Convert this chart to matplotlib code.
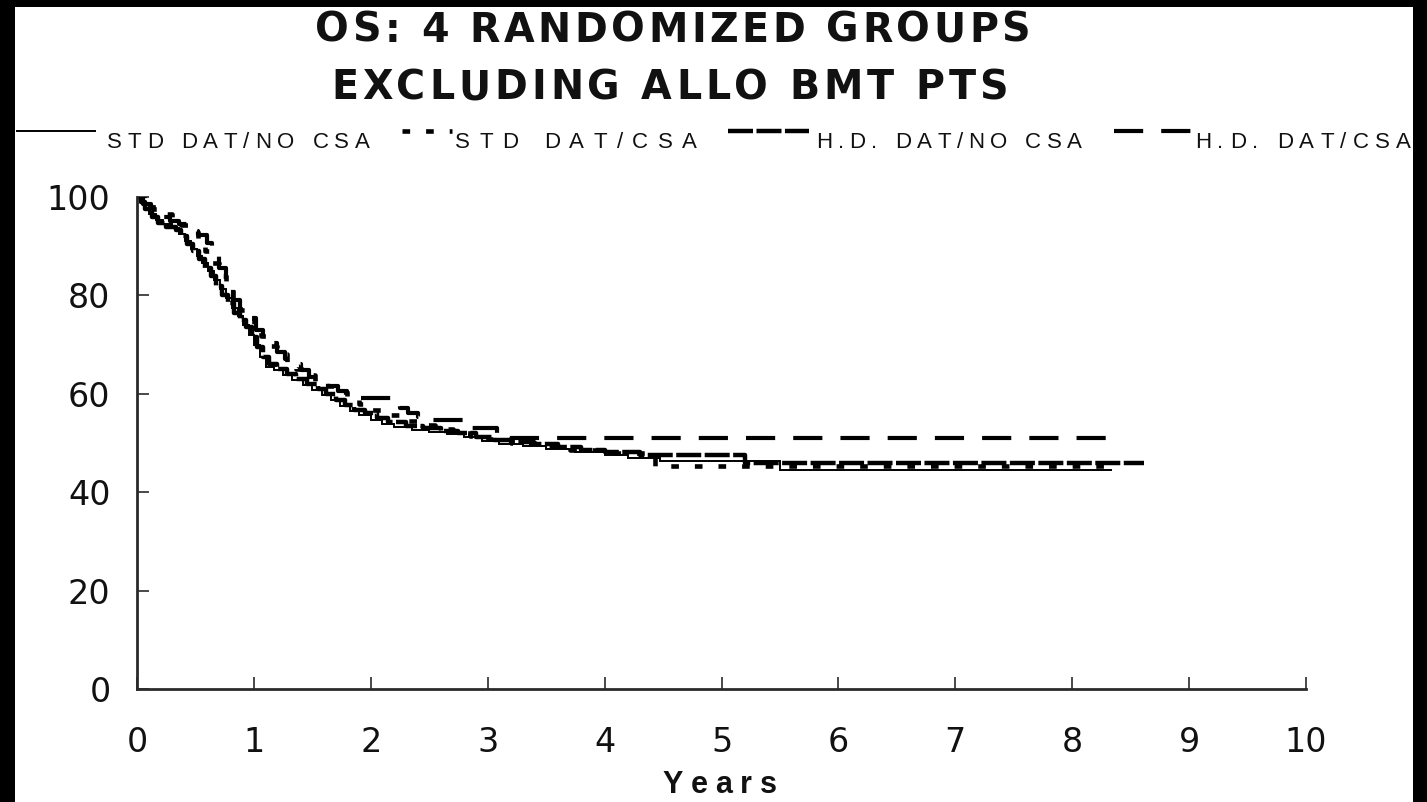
import matplotlib
matplotlib.use("Agg")
import matplotlib.pyplot as plt
from matplotlib.lines import Line2D
from matplotlib.patches import Rectangle
from matplotlib.font_manager import FontProperties, findfont
from matplotlib.ft2font import FT2Font

plt.rcParams["lines.scale_dashes"] = False

# ---------------- data: Kaplan-Meier overall survival (%) by year ----------------
labels = ["STD DAT/NO CSA", "STD DAT/CSA", "H.D. DAT/NO CSA", "H.D. DAT/CSA"]

std_nocsa_t = [0, 0.04, 0.10, 0.16, 0.22, 0.30, 0.36, 0.41, 0.46, 0.51, 0.56, 0.61,
               0.66, 0.71, 0.76, 0.81, 0.86, 0.91, 0.96, 1.00, 1.05, 1.10, 1.17, 1.25,
               1.33, 1.42, 1.50, 1.58, 1.66, 1.74, 1.82, 1.90, 2.00, 2.10, 2.20, 2.35,
               2.50, 2.65, 2.80, 2.95, 3.10, 3.30, 3.50, 3.75, 4.00, 4.20, 4.47, 5.50, 8.34]
std_nocsa_s = [100, 98.5, 96.5, 95.3, 94.5, 93.7, 92.5, 91.0, 89.5, 88.0, 86.5, 85.0,
               83.2, 81.2, 79.5, 77.5, 75.8, 74.0, 72.0, 70.0, 67.5, 65.5, 64.8, 63.8,
               62.8, 61.8, 60.8, 59.8, 58.8, 57.5, 56.5, 55.6, 54.6, 53.8, 53.2, 52.6,
               52.2, 51.8, 51.2, 50.4, 49.8, 49.3, 48.8, 48.2, 47.6, 47.0, 46.3, 44.5, 44.5]

std_csa_t = [0, 0.06, 0.14, 0.22, 0.30, 0.38, 0.45, 0.52, 0.58, 0.64, 0.70, 0.76,
             0.82, 0.88, 0.94, 1.00, 1.06, 1.12, 1.20, 1.28, 1.36, 1.44, 1.52, 1.60,
             1.70, 1.80, 1.90, 2.00, 2.12, 2.25, 2.40, 2.55, 2.70, 2.85, 3.00, 3.20,
             3.45, 3.70, 4.00, 4.43, 8.30]
std_csa_s = [100, 99.0, 97.5, 96.5, 95.5, 94.3, 92.8, 91.2, 89.0, 86.5, 84.0, 81.5,
             79.0, 77.0, 75.5, 73.8, 71.8, 69.8, 68.0, 66.5, 65.0, 63.8, 62.6, 61.6,
             60.4, 59.2, 58.0, 56.8, 55.6, 54.5, 53.6, 52.8, 52.0, 51.4, 50.8, 50.1,
             49.3, 48.6, 47.9, 45.4, 45.4]

hd_nocsa_t = [0, 0.03, 0.07, 0.13, 0.18, 0.25, 0.33, 0.38, 0.43, 0.48, 0.53, 0.58,
              0.63, 0.68, 0.73, 0.78, 0.83, 0.88, 0.93, 0.98, 1.03, 1.08, 1.13, 1.20,
              1.28, 1.36, 1.45, 1.55, 1.62, 1.70, 1.78, 1.86, 1.95, 2.05, 2.15, 2.30,
              2.45, 2.60, 2.75, 2.90, 3.05, 3.20, 3.40, 3.60, 3.80, 4.00, 4.30, 5.20, 8.61]
hd_nocsa_s = [100, 99.0, 97.5, 96.0, 94.8, 94.0, 93.2, 92.0, 90.5, 89.0, 87.5, 85.5,
              84.0, 82.0, 80.0, 78.5, 76.5, 75.0, 73.5, 71.5, 69.5, 67.5, 66.0, 65.0,
              64.0, 63.0, 62.0, 61.0, 60.0, 58.8, 57.8, 56.8, 56.0, 55.0, 54.2, 53.5,
              53.0, 52.5, 52.0, 51.3, 50.7, 50.2, 49.7, 49.1, 48.6, 48.1, 47.6, 46.0, 46.0]

hd_csa_t = [0, 0.05, 0.12, 0.20, 0.28, 0.36, 0.45, 0.52, 0.60, 0.64, 0.70, 0.76,
            0.82, 0.88, 0.95, 1.02, 1.08, 1.14, 1.20, 1.27, 1.33, 1.40, 1.47, 1.55,
            1.63, 1.72, 1.80, 1.88, 2.25, 2.32, 2.40, 2.45, 2.80, 3.08, 8.39]
hd_csa_s = [100, 98.5, 97.0, 96.0, 95.2, 94.5, 93.0, 92.3, 90.6, 88.0, 85.5, 82.0,
            79.0, 76.6, 75.4, 73.0, 71.5, 70.3, 68.5, 67.0, 66.0, 64.8, 63.5, 62.5,
            61.5, 60.5, 59.8, 59.1, 57.2, 56.0, 55.3, 54.7, 53.0, 51.0, 51.0]

x_ticks = list(range(0, 11))
y_ticks = [0, 20, 40, 60, 80, 100]

title_lines = ["OS: 4 RANDOMIZED GROUPS", "EXCLUDING ALLO BMT PTS"]
x_label = "Years"

# ---------------- styles ----------------
styles = [
    dict(color="black", lw=1.4, linestyle="-"),
    dict(color="black", lw=3.3, linestyle=(0, (5.5, 11.5))),
    dict(color="black", lw=3.2, linestyle=(0, (18.0, 2.5))),
    dict(color="black", lw=3.0, linestyle=(0, (21.0, 13.0))),
]
curves = [(std_nocsa_t, std_nocsa_s), (std_csa_t, std_csa_s),
          (hd_nocsa_t, hd_nocsa_s), (hd_csa_t, hd_csa_s)]

W, H, DPI = 1427, 802, 100
FONT = "Liberation Sans"
WIDE_FONT = "DejaVu Sans"

fig = plt.figure(figsize=(W / DPI, H / DPI), dpi=DPI, facecolor="black")
fig.patches.append(Rectangle((15 / W, 0), (1413 - 15) / W, (H - 7) / H,
                             transform=fig.transFigure, facecolor="white",
                             edgecolor="none", zorder=-10))


def tracked_text(s, baseline, size, weight="normal", family=FONT, left=None,
                 right=None, center=None, tracking=0.0):
    """Draw s letter by letter with extra spacing; coordinates in pixels from top-left."""
    fp = FontProperties(family=family, weight=weight, size=size)
    ft = FT2Font(findfont(fp))
    ft.set_size(size, DPI)
    adv = [ft.load_char(ord(c)).linearHoriAdvance / 65536.0 for c in s]
    natural = sum(adv)
    if left is not None and right is not None:
        tracking = (right - left - natural) / (len(s) - 1)
    total = natural + tracking * (len(s) - 1)
    if left is None:
        left = center - total / 2.0
    x = left
    for c, a in zip(s, adv):
        if c != " ":
            fig.text(x / W, 1 - baseline / H, c, fontproperties=fp,
                     ha="left", va="baseline", color="#111111")
        x += a + tracking


# ---------------- axes ----------------
ax = fig.add_axes([137 / W, 1 - 689 / H, (1306 - 137) / W, (689 - 197) / H])
ax.patch.set_alpha(0)
for (t, s), st in zip(curves, styles):
    ax.step(t, s, where="post", solid_capstyle="butt", dash_capstyle="butt",
            solid_joinstyle="miter", **st)

ax.set_xlim(0, 10)
ax.set_ylim(0, 100)
ax.set_xticks(x_ticks)
ax.set_yticks(y_ticks)
ax.set_xticklabels([str(v) for v in x_ticks])
ax.set_yticklabels([str(v) for v in y_ticks])
for side in ("top", "right"):
    ax.spines[side].set_visible(False)
for side in ("left", "bottom"):
    ax.spines[side].set_linewidth(2.0)
    ax.spines[side].set_color("#2a2a2a")
ax.tick_params(axis="both", direction="in", length=8.6, width=1.2, color="#2a2a2a",
               labelsize=24, labelcolor="#111111")
ax.tick_params(axis="y", pad=19)
ax.tick_params(axis="x", pad=26.5)
for lab in ax.get_xticklabels() + ax.get_yticklabels():
    lab.set_fontfamily(WIDE_FONT)

# ---------------- title ----------------
tracked_text(title_lines[0], 42, 28.5, weight="bold", family=WIDE_FONT, left=315, right=1030)
tracked_text(title_lines[1], 99, 28.5, weight="bold", family=WIDE_FONT, left=331, right=1008)

# ---------------- legend row ----------------
legend_layout = [((16, 96), (107, 370)),
                 ((402, 452), (455, 697)),
                 ((728, 809), (816, 1082)),
                 ((1114, 1191), (1195, 1411))]
line_y = 131
for (lx, tx), st, lab in zip(legend_layout, styles, labels):
    fig.add_artist(Line2D([lx[0] / W, lx[1] / W], [1 - line_y / H] * 2,
                          transform=fig.transFigure, solid_capstyle="butt",
                          dash_capstyle="butt", **st))
    tracked_text(lab, 148, 16, left=tx[0], right=tx[1])

# ---------------- x label ----------------
tracked_text(x_label, 793, 22, weight="bold", left=662, right=777)

fig.savefig("out.png", dpi=DPI, facecolor=fig.get_facecolor())
